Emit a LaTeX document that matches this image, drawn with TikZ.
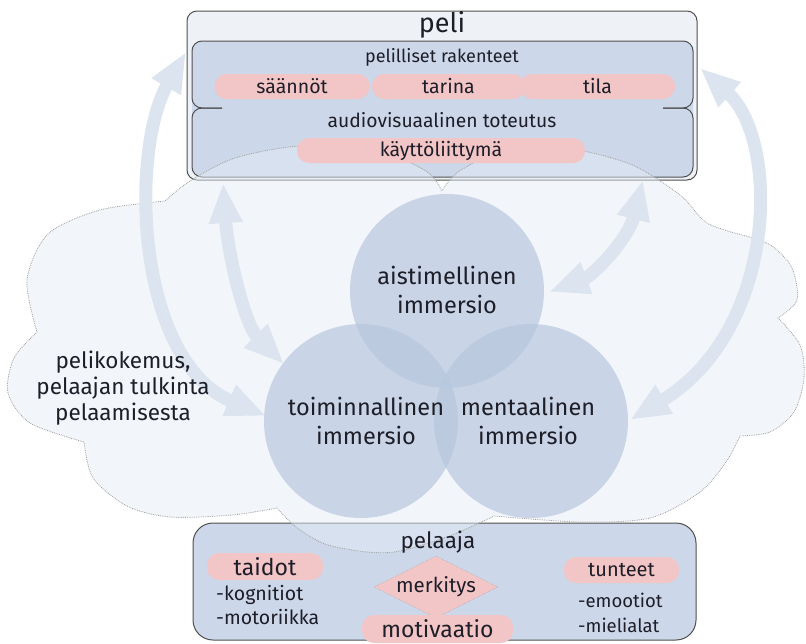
\documentclass[tikz,border=0pt]{standalone}
\usepackage{fontspec}
\setmainfont{Fira Sans}
\usetikzlibrary{arrows.meta,shapes.geometric}
\definecolor{boxblue}{HTML}{CCD8E9}
\definecolor{paleblue}{HTML}{EEF2F7}
\definecolor{pillpink}{HTML}{F2C5C6}
\definecolor{cloudblue}{HTML}{E5EBF5}
\definecolor{arrowblue}{HTML}{DCE4EF}
\definecolor{bubbleblue}{HTML}{B7C7DE}
\definecolor{edgegray}{HTML}{505050}
\definecolor{inkblack}{HTML}{1E1E28}

\begin{document}
\begin{tikzpicture}[
    x=1pt, y=-1pt,
    box/.style={draw=edgegray, line width=1pt},
    pill/.style={fill=pillpink, rounded corners=12pt, minimum height=25pt, inner sep=0pt, text=inkblack, font=\fontsize{19.5}{21}\selectfont},
    bubble/.style={circle, fill=bubbleblue, fill opacity=0.7, minimum size=194pt, inner sep=0pt},
    big/.style={text=inkblack, align=center, font=\fontsize{23.5}{29}\selectfont},
    small/.style={text=inkblack, inner sep=2pt, font=\fontsize{18.5}{21}\selectfont},
    flow/.style={arrowblue, line width=13pt, {Triangle[width=31pt,length=40pt]}-{Triangle[width=31pt,length=40pt]}},
    cloudline/.style={fill=cloudblue, fill opacity=0.5, draw=gray!75, densely dotted, line width=0.8pt},
    rhomb/.style={diamond, aspect=2, fill=pillpink, draw=gray!75, densely dotted, minimum width=124pt, minimum height=62pt, inner sep=0pt, text=inkblack, font=\fontsize{20.5}{22}\selectfont}
]
    \useasboundingbox (0,0) rectangle (806,643);

    \draw[box, fill=paleblue, rounded corners=10] (187,11) rectangle (697,180);
    \fill[boxblue, rounded corners=10] (192,41) rectangle (693,177);
    \draw[box, rounded corners=10] (222,108) -- (192,108) -- (192,41) -- (693,41) -- (693,108) -- (663,108);
    \draw[box, rounded corners=10] (222,108) -- (192,108) -- (192,177) -- (693,177) -- (693,108) -- (663,108);
    \draw[box, fill=boxblue, rounded corners=20] (193,523) rectangle (696,640);

    \draw[cloudline]
        plot[smooth] coordinates {(442,191) (426,171) (375,150) (300,146) (235,158) (190,181) (165,201)}
        -- plot[smooth] coordinates {(165,201) (100,210) (48,234) (27,280) (37,332)}
        -- plot[smooth] coordinates {(37,332) (14,358) (8,393) (30,423) (84,442)}
        -- plot[smooth] coordinates {(84,442) (93,478) (127,506) (170,517) (232,515) (277,508)}
        -- plot[smooth] coordinates {(277,508) (296,527) (325,544) (367,552) (400,551) (452,535) (494,516)}
        -- plot[smooth] coordinates {(494,516) (580,522) (650,518) (700,492) (726,462) (740,436)}
        -- plot[smooth] coordinates {(740,436) (770,432) (794,412) (804,378) (800,345) (778,318)}
        -- plot[smooth] coordinates {(778,318) (797,300) (792,268) (772,246) (746,236)}
        -- plot[smooth] coordinates {(746,236) (707,223) (680,195) (630,164) (560,147) (500,152) (458,172) (442,191)}
        -- cycle;

    \coordinate (l1a) at (186,52);
    \coordinate (l1b) at (266,416);
    \coordinate (l2a) at (223,183);
    \coordinate (l2b) at (284,364);
    \coordinate (r2a) at (643,180);
    \coordinate (r2b) at (549,292);
    \coordinate (r1a) at (700,68);
    \coordinate (r1b) at (630,420);
    \draw[flow] (l1a) .. controls (130,150) and (135,360) .. (l1b);
    \draw[flow] (l2a) .. controls (228,255) and (245,325) .. (l2b);
    \draw[flow] (r2a) .. controls (628,240) and (592,276) .. (r2b);
    \draw[flow] (r1a) .. controls (780,140) and (778,330) .. (r1b);

    \node[bubble] (aisti) at (447,291) {};
    \node[bubble] (toimi) at (361,421) {};
    \node[bubble] (menta) at (531,421) {};

    \node[big] (aisti-t) at (447,290) {aistimellinen\\immersio};
    \node[big] (toimi-t) at (366,421) {toiminnallinen\\immersio};
    \node[big] (menta-t) at (528,421) {mentaalinen\\immersio};
    \node[big, font=\fontsize{22.5}{26}\selectfont] (kokemus) at (123,388) {pelikokemus,\\pelaajan tulkinta\\pelaamisesta};

    \node[big, font=\fontsize{27}{30}\selectfont] (peli) at (442,25) {peli};
    \node[small, font=\fontsize{18}{21}\selectfont] (rakenteet) at (442,57) {pelilliset rakenteet};
    \node[pill, minimum width=155pt] (saannot) at (292,86.5) {säännöt};
    \node[pill, minimum width=153pt] (tarina) at (448.5,86.5) {tarina};
    \node[pill, minimum width=155pt] (tila) at (597.5,86.5) {tila};
    \node[small, font=\fontsize{19.3}{21}\selectfont] (toteutus) at (442,120) {audiovisuaalinen toteutus};
    \node[pill, minimum width=288pt] (kayttoli) at (441,150.5) {käyttöliittymä};

    \node[rhomb] (merkitys) at (436,587) {merkitys};
    \node[big, font=\fontsize{22.5}{26}\selectfont] (pelaaja) at (438,542) {pelaaja};
    \node[pill, minimum width=116pt, minimum height=27pt, font=\fontsize{23}{25}\selectfont] (taidot) at (265,566.5) {taidot};
    \node[small, font=\fontsize{19.5}{21}\selectfont, anchor=west] (kogn) at (214,595) {-kognitiot};
    \node[small, font=\fontsize{19.5}{21}\selectfont, anchor=west] (moto) at (214,617) {-motoriikka};
    \node[pill, minimum width=151pt, minimum height=28pt, font=\fontsize{23}{25}\selectfont] (motivaatio) at (437.5,629) {motivaatio};
    \node[pill, minimum width=115pt, minimum height=26pt, font=\fontsize{20}{22}\selectfont] (tunteet) at (621.5,570) {tunteet};
    \node[small, anchor=west] (emo) at (576,600) {-emootiot};
    \node[small, anchor=west] (miel) at (576,625) {-mielialat};
\end{tikzpicture}
\end{document}
